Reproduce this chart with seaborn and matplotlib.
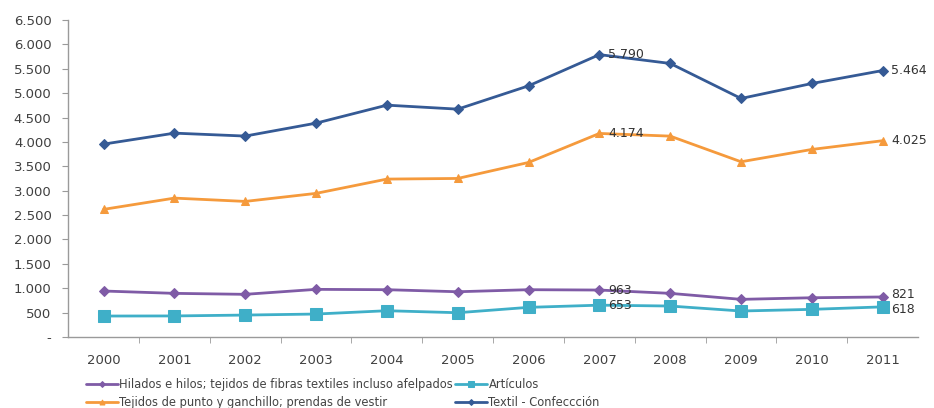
import matplotlib
matplotlib.use("Agg")
import matplotlib.pyplot as plt
import seaborn as sns
import pandas as pd
from matplotlib.ticker import FuncFormatter, MultipleLocator

years = list(range(2000, 2012))

hilados = [943, 895, 875, 977, 970, 928, 970, 963, 895, 772, 805, 821]
tejidos = [2617, 2848, 2780, 2945, 3238, 3251, 3579, 4174, 4119, 3593, 3846, 4025]
articulos = [430, 432, 450, 471, 539, 498, 608, 653, 635, 533, 567, 618]
textil = [3955, 4180, 4120, 4385, 4754, 4672, 5150, 5790, 5609, 4891, 5198, 5464]

series_names = [
    "Hilados e hilos; tejidos de fibras textiles incluso afelpados",
    "Tejidos de punto y ganchillo; prendas de vestir",
    "Artículos",
    "Textil - Confeccción",
]
series_values = [hilados, tejidos, articulos, textil]
colors = ["#7F5BA6", "#F59A3C", "#3FAFC8", "#355A95"]
markers = ["D", "^", "s", "D"]
marker_sizes = [5, 6, 8, 5]
# vertical nudge (data units) for the end-of-line labels
end_offsets = [55, 0, -55, 0]

df = pd.concat(
    [pd.DataFrame({"Año": years, "Valor": v, "Serie": n}) for n, v in zip(series_names, series_values)],
    ignore_index=True,
)

sns.set_style("white")
plt.rcParams["font.family"] = ["DejaVu Sans"]

fig = plt.figure(figsize=(9.34, 4.08), dpi=100)
ax = fig.add_axes([0.073, 0.174, 0.910, 0.777])

for name, col, mk, ms in zip(series_names, colors, markers, marker_sizes):
    sub = df[df["Serie"] == name]
    sns.lineplot(data=sub, x="Año", y="Valor", ax=ax, color=col, marker=mk,
                 markersize=ms, linewidth=2.0, markeredgecolor=col, label=name)


def fmt_thousands(v):
    return f"{int(round(v)):,}".replace(",", ".")


# value labels: peak year (2007) and last year (2011)
label_style = dict(fontsize=9, color="#333333", va="center", ha="left")
for vals, off in zip(series_values, end_offsets):
    ax.text(2007 + 0.12, vals[7], fmt_thousands(vals[7]), **label_style)
    ax.text(2011 + 0.12, vals[11] + off, fmt_thousands(vals[11]), **label_style)

ax.set_xlim(1999.5, 2011.5)
ax.set_ylim(0, 6500)
ax.yaxis.set_major_locator(MultipleLocator(500))
ax.yaxis.set_major_formatter(FuncFormatter(lambda v, p: "-" if v == 0 else fmt_thousands(v)))
ax.set_xticks(years)
ax.set_xticklabels([str(y) for y in years])
ax.set_xticks([y + 0.5 for y in years[:-1]], minor=True)
ax.set_xlabel("")
ax.set_ylabel("")

for side in ["top", "right"]:
    ax.spines[side].set_visible(False)
for side in ["left", "bottom"]:
    ax.spines[side].set_color("#9a9a9a")
    ax.spines[side].set_linewidth(1)

ax.tick_params(axis="y", which="major", left=True, length=4, color="#9a9a9a",
               labelsize=9.5, labelcolor="#404040", pad=8)
ax.tick_params(axis="x", which="major", bottom=False, labelsize=9.5,
               labelcolor="#404040", pad=9)
ax.tick_params(axis="x", which="minor", bottom=True, length=4, color="#9a9a9a")

handles, labels = ax.get_legend_handles_labels()
ax.legend(handles, labels, loc="upper left", bbox_to_anchor=(0.015, -0.115),
          ncol=2, frameon=False, fontsize=8.3, handlelength=2.8, handletextpad=0.1,
          columnspacing=0.2, labelspacing=0.45, borderaxespad=0, markerscale=0.6,
          labelcolor="#444444")

fig.savefig("out.png", dpi=100, facecolor="white")
